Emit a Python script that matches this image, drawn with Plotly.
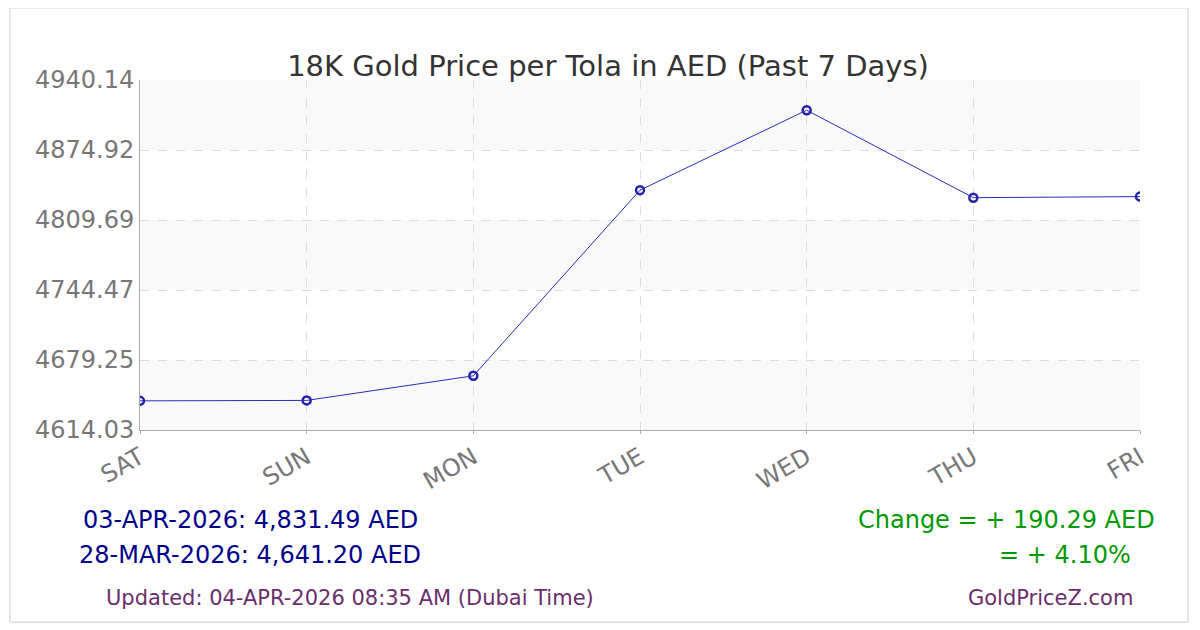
import plotly.graph_objects as go

days = ["SAT", "SUN", "MON", "TUE", "WED", "THU", "FRI"]
prices = [4641.20, 4641.6, 4664.5, 4837.5, 4912.0, 4830.5, 4831.49]
tick_vals = [4614.03, 4679.25, 4744.47, 4809.69, 4874.92, 4940.14]

fig = go.Figure()

fig.add_trace(
    go.Scatter(
        x=days,
        y=prices,
        mode="lines+markers",
        line=dict(color="#2b2bb8", width=1),
        marker=dict(size=8, color="rgba(0,0,0,0)", line=dict(color="#2222aa", width=2.5)),
        hoverinfo="x+y",
    )
)

# faixas alternadas no fundo
shapes = []
for i in range(0, len(tick_vals) - 1, 2):
    shapes.append(dict(type="rect", xref="paper", yref="y", x0=0, x1=1,
                       y0=tick_vals[i], y1=tick_vals[i + 1],
                       fillcolor="#f9f9f9", line_width=0, layer="below"))
# moldura
shapes.append(dict(type="path", xref="paper", yref="paper",
                   path="M -0.13,1.206 L 1.048,1.206 L 1.048,-0.549 L -0.13,-0.549 Z",
                   line=dict(color="#cccccc", width=1)))

ann_font = dict(family="DejaVu Sans", size=24)
annotations = [
    dict(text="03-APR-2026: 4,831.49 AED", x=0.11, y=-0.257, font=dict(ann_font, color="#00008b")),
    dict(text="28-MAR-2026: 4,641.20 AED", x=0.11, y=-0.357, font=dict(ann_font, color="#00008b")),
    dict(text="Change = + 190.29 AED", x=1.017, y=-0.257, xanchor="right", font=dict(ann_font, color="#009900")),
    dict(text="= + 4.10%", x=0.993, y=-0.357, xanchor="right", font=dict(ann_font, color="#009900")),
    dict(text="Updated: 04-APR-2026 08:35 AM (Dubai Time)", x=0.21, y=-0.48,
         font=dict(family="DejaVu Sans", size=21, color="#6b2d6b")),
    dict(text="GoldPriceZ.com", x=0.91, y=-0.48, font=dict(family="DejaVu Sans", size=21, color="#6b2d6b")),
]
for a in annotations:
    a.update(xref="paper", yref="paper", showarrow=False, yanchor="middle")
    a.setdefault("xanchor", "center")

fig.update_layout(
    title=dict(text="18K Gold Price per Tola in AED (Past 7 Days)", x=0.5, y=0.925,
               xanchor="center", font=dict(family="DejaVu Sans", size=29, color="#333333")),
    font=dict(family="DejaVu Sans"),
    width=1200,
    height=630,
    margin=dict(l=132, r=68, t=72, b=208),
    paper_bgcolor="white",
    plot_bgcolor="white",
    showlegend=False,
    shapes=shapes,
    annotations=annotations,
    xaxis=dict(
        range=[0, 6],
        tickangle=-30,
        tickfont=dict(size=24, color="#777777"),
        showgrid=True,
        gridcolor="#dddddd",
        griddash="dash",
        showline=True,
        linecolor="#aaaaaa",
        ticks="outside",
        ticklen=3,
        tickcolor="#aaaaaa",
    ),
    yaxis=dict(
        range=[tick_vals[0], tick_vals[-1]],
        tickvals=tick_vals,
        ticktext=[f"{v:.2f}" for v in tick_vals],
        tickfont=dict(size=24, color="#777777"),
        showgrid=True,
        gridcolor="#dddddd",
        griddash="dash",
        showline=True,
        linecolor="#aaaaaa",
        zeroline=False,
    ),
)

fig.write_html("out.html")
